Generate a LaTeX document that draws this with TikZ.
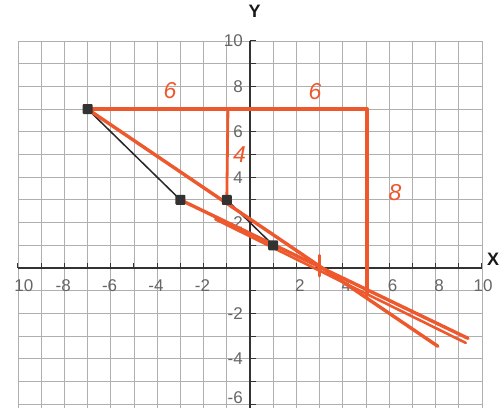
\documentclass[tikz,border=0pt]{standalone}
\usepackage{fontspec}
\setmainfont{Liberation Sans}
\definecolor{penred}{RGB}{238,88,45}
\definecolor{gridgray}{RGB}{175,175,175}
\begin{document}
\begin{tikzpicture}[x=23.2pt,y=22.7pt,
  gridline/.style={gridgray,line width=0.8pt},
  axisline/.style={black!80,line width=1.6pt},
  tickmark/.style={black!80,line width=1pt},
  ticklabel/.style={text=black!60,font=\fontsize{17}{17}\selectfont,inner sep=0pt},
  axislabel/.style={text=black!90,font=\fontsize{18}{18}\selectfont\bfseries,inner sep=0pt},
  penline/.style={penred,line width=3.4pt,line cap=round,line join=round},
  penlabel/.style={text=penred,font=\fontsize{23}{23}\selectfont\itshape,inner sep=0pt},
  blkline/.style={black!85,line width=1.5pt},
  dotpt/.style={rectangle,fill=black!80,minimum size=10pt,inner sep=0pt,rounded corners=1pt}]
\useasboundingbox (-10.776,-6.167) rectangle (10.776,11.806);
\fill[white] (-10.776,-6.167) rectangle (10.776,11.806);
% grid
\foreach \i in {-10,...,10} \draw[gridline] (\i,-6.3) -- (\i,10);
\foreach \j in {-6,...,10} \draw[gridline] (-10,\j) -- (10,\j);
% axes
\draw[axisline] (-10,0) -- (10,0);
\draw[axisline] (0,-6.3) -- (0,10);
\foreach \i in {-10,...,10} \draw[tickmark] (\i,0) -- (\i,0.22);
\foreach \j in {-6,...,10} \draw[tickmark] (0,\j) -- (0.25,\j);
% axis labels
\node[axislabel] (ylab) at (0.2,11.3) {Y};
\node[axislabel,anchor=east] (xlab) at (10.75,0.4) {X};
% tick labels x
\node[ticklabel] (xm10) at (-9.75,-0.78) {10};
\foreach \v in {-8,-6,-4,-2} \node[ticklabel] (xl\v) at (\v-0.05,-0.78) {\v};
\foreach \v in {2,4,6,8} \node[ticklabel] (xl\v) at (\v+0.15,-0.78) {\v};
\node[ticklabel] (xl10) at (10.05,-0.78) {10};
% tick labels y
\foreach \v in {10,8,6,4,2,-2,-4} \node[ticklabel,anchor=east] (yl\v) at (-0.3,\v) {\v};
\node[ticklabel,anchor=south east] (ylm6) at (-0.3,-5.98) {-6};
% points
\coordinate (A) at (-7,7);
\coordinate (B) at (-3,3);
\coordinate (C) at (-1,3);
\coordinate (D) at (1,1);
\coordinate (E) at (5.05,7);
\coordinate (F) at (-0.95,7);
\coordinate (G) at (5.05,-1.2);
\coordinate (H) at (8.1,-3.45);
\coordinate (I) at (9.4,-3.1);
\coordinate (J) at (9.3,-3.3);
\coordinate (K1) at (3,0.55);
\coordinate (K2) at (3,-0.35);
% black segments
\draw[blkline] (A) -- (B);
\draw[blkline] (C) -- (D);
% red pen lines
\draw[penline] (A) -- (E) -- (G);
\draw[penline,line width=2.8pt] (F) -- (C);
\draw[penline] (A) -- (H);
\draw[penline] (B) -- (I);
\draw[penline,line width=2.6pt] (-1.5,2.15) -- (J);
\draw[penline] (K1) -- (K2);
% points on top
\foreach \p in {A,B,C,D} \node[dotpt] (n\p) at (\p) {};
% red labels
\node[penlabel] (l6a) at (-3.45,7.8) {6};
\node[penlabel] (l6b) at (2.8,7.75) {6};
\node[penlabel] (l4) at (-0.45,5.0) {4};
\node[penlabel] (l8) at (6.25,3.3) {8};
\end{tikzpicture}
\end{document}
